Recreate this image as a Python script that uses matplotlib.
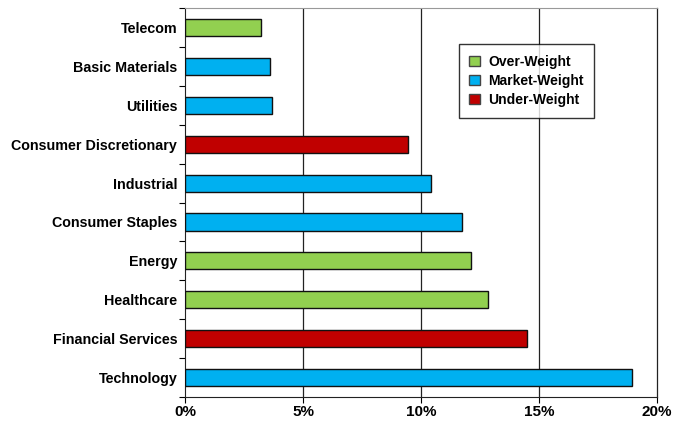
import matplotlib
matplotlib.use("Agg")
import matplotlib.pyplot as plt
from matplotlib.patches import Patch

# sector weights (%), listed top to bottom
sectors = ["Telecom", "Basic Materials", "Utilities", "Consumer Discretionary",
           "Industrial", "Consumer Staples", "Energy", "Healthcare",
           "Financial Services", "Technology"]
weights = [3.2, 3.6, 3.65, 9.45, 10.4, 11.75, 12.1, 12.85, 14.5, 18.95]
ratings = ["over", "market", "market", "under", "market", "market",
           "over", "over", "under", "market"]

colors = {"over": "#92D050", "market": "#00B0F0", "under": "#C00000"}
labels = {"over": "Over-Weight", "market": "Market-Weight", "under": "Under-Weight"}
x_ticks = [0, 5, 10, 15, 20]

plt.rcParams["font.family"] = ["Liberation Sans", "DejaVu Sans"]
plt.rcParams["font.weight"] = "bold"

fig = plt.figure(figsize=(6.86, 4.22), dpi=100)
ax = fig.add_axes([0.2704, 0.0592, 0.6873, 0.9218])

ypos = list(range(len(sectors)))
ax.barh(ypos, weights, height=0.44, color=[colors[r] for r in ratings],
        edgecolor="#111111", linewidth=1.0, zorder=3)

ax.set_ylim(len(sectors) - 0.5, -0.5)
ax.set_xlim(0, 20)
ax.set_yticks(ypos)
ax.set_yticklabels(sectors, fontsize=10.3, fontweight="bold")
ax.set_yticks([i - 0.5 for i in range(len(sectors) + 1)], minor=True)
ax.tick_params(axis="y", which="major", length=0, pad=6)
ax.tick_params(axis="y", which="minor", length=4, width=0.8, direction="out")

ax.set_xticks(x_ticks)
ax.set_xticklabels([f"{t}%" for t in x_ticks], fontsize=11, fontweight="bold")
ax.tick_params(axis="x", length=4, width=0.8, direction="out", pad=2)

for t in x_ticks[1:-1]:
    ax.axvline(t, color="#222222", linewidth=0.9, zorder=1)

ax.spines["top"].set_color("#999999")
ax.spines["right"].set_color("#222222")
ax.spines["right"].set_linewidth(0.9)
ax.spines["left"].set_color("#222222")
ax.spines["bottom"].set_color("#222222")

handles = [Patch(facecolor=colors[k], edgecolor="#444444", label=labels[k])
           for k in ["over", "market", "under"]]
leg = ax.legend(handles=handles, loc="upper left", bbox_to_anchor=(0.58, 0.907),
                borderaxespad=0, frameon=True, fancybox=False, borderpad=0.75,
                handlelength=0.75, handleheight=0.75, handletextpad=0.6,
                labelspacing=0.38, prop={"weight": "bold", "size": 10})
leg.get_frame().set_edgecolor("black")
leg.get_frame().set_linewidth(1.0)
leg.set_zorder(5)

fig.savefig("out.png", dpi=100)
